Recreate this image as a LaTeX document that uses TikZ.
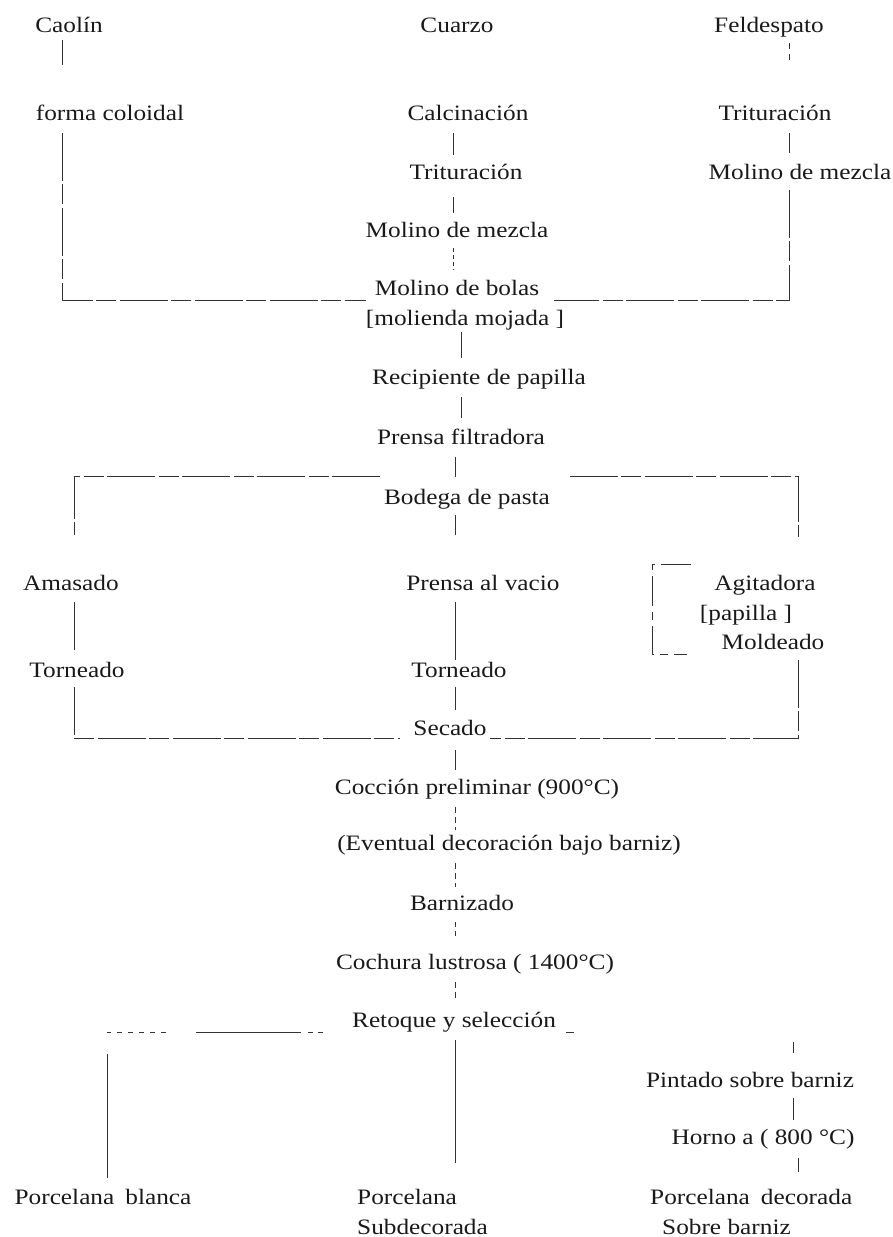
\documentclass[tikz,border=0pt]{standalone}
\usepackage{fontspec}
\setmainfont{Liberation Serif}[FakeStretch=1.15]
\begin{document}
\begin{tikzpicture}[x=1pt,y=-1pt,
  lbl/.style={anchor=base, inner sep=0pt, text height=16pt, text depth=5pt,
              font=\fontsize{22}{30}\selectfont, text=black!90},
  ln/.style={line width=0.8pt, draw=black!80},
  bar/.style={ln, dash pattern=on 48pt off 3pt on 20pt off 4pt}]
\useasboundingbox (0,0) rectangle (892,1237);
% column coordinates
\coordinate (cL) at (62,0);
\coordinate (cM) at (74,0);
\coordinate (cB) at (107,0);
\coordinate (cC1) at (453,0);
\coordinate (cC2) at (461,0);
\coordinate (cC3) at (455,0);
\coordinate (cR) at (789,0);
\coordinate (cR2) at (798,0);
\coordinate (cR3) at (793,0);
% nodes
\node[lbl] (caolin)   at (69,32)   {Caolín};
\node[lbl] (cuarzo)   at (457,32)  {Cuarzo};
\node[lbl] (feld)     at (769,32)  {Feldespato};
\node[lbl] (forma)    at (110,120) {forma coloidal};
\node[lbl] (calc)     at (468,120) {Calcinación};
\node[lbl] (tritR)    at (775,120) {Trituración};
\node[lbl] (tritC)    at (466,179) {Trituración};
\node[lbl] (molmezR)  at (800,179) {Molino de mezcla};
\node[lbl] (molmezC)  at (457,237) {Molino de mezcla};
\node[lbl] (bolas)    at (457,295) {Molino de bolas};
\node[lbl] (molienda) at (465,325) {[molienda mojada ]};
\node[lbl] (recip)    at (479,384) {Recipiente de papilla};
\node[lbl] (prensaF)  at (461,444) {Prensa filtradora};
\node[lbl] (bodega)   at (467,504) {Bodega de pasta};
\node[lbl] (amasado)  at (71,590)  {Amasado};
\node[lbl] (prensaV)  at (483,590) {Prensa al vacio};
\node[lbl] (agit)     at (765,590) {Agitadora};
\node[lbl] (papilla)  at (746,620) {[papilla ]};
\node[lbl] (molde)    at (773,649) {Moldeado};
\node[lbl] (tornL)    at (77,677)  {Torneado};
\node[lbl] (tornC)    at (459,677) {Torneado};
\node[lbl] (secado)   at (450,735) {Secado};
\node[lbl] (coccion)  at (477,794) {Cocción preliminar (900°C)};
\node[lbl] (eventual) at (509,850) {(Eventual decoración bajo barniz)};
\node[lbl] (barniz)   at (462,910) {Barnizado};
\node[lbl] (cochura)  at (475,969) {Cochura lustrosa ( 1400°C)};
\node[lbl] (retoque)  at (454,1027) {Retoque y selección};
\node[lbl] (pintado)  at (750,1087) {Pintado sobre barniz};
\node[lbl] (horno)    at (763,1144) {Horno a ( 800 °C)};
\node[lbl] (pblanca)  at (103,1204) {Porcelana\hspace{0.5em}blanca};
\node[lbl, anchor=base west] (psub1) at (357,1204) {Porcelana};
\node[lbl, anchor=base west] (psub2) at (357,1234) {Subdecorada};
\node[lbl, anchor=base west] (pdec1) at (650,1204) {Porcelana\hspace{0.5em}decorada};
\node[lbl, anchor=base west] (pdec2) at (662,1234) {Sobre barniz};
% top section
\draw[ln, shorten <=3pt, shorten >=39pt] (caolin.south -| cL) -- (forma.north -| cL);
\draw[ln, dash pattern=on 6pt off 5pt, shorten <=6pt, shorten >=42pt] (feld.south -| cR) -- (tritR.north -| cR);
\draw[bar, shorten <=8pt] (forma.south -| cL) |- ([xshift=-9pt]bolas.south west);
\draw[bar, shorten <=6pt] (molmezR.south -| cR) |- ([xshift=15pt]bolas.south east);
\draw[ln, shorten <=8pt, shorten >=10pt] (tritR.south -| cR) -- (molmezR.north -| cR);
\draw[ln, shorten <=8pt, shorten >=8pt] (calc.south -| cC1) -- (tritC.north -| cC1);
\draw[ln, shorten <=13pt, shorten >=8pt] (tritC.south -| cC1) -- (molmezC.north -| cC1);
\draw[ln, dash pattern=on 4pt off 3pt, shorten <=6pt, shorten >=9pt] (molmezC.south -| cC1) -- (bolas.north -| cC1);
\draw[ln, shorten <=2pt, shorten >=10pt] (molienda.south -| cC2) -- (recip.north -| cC2);
\draw[ln, shorten <=8pt, shorten >=10pt] (recip.south -| cC2) -- (prensaF.north -| cC2);
\draw[ln, shorten <=8pt, shorten >=11pt] (prensaF.south -| cC3) -- (bodega.north -| cC3);
% bodega branches
\draw[bar, shorten >=39pt] ([shift={(-4pt,11pt)}]bodega.north west) -| (amasado.north -| cM);
\draw[bar, shorten >=37pt] ([shift={(20pt,11pt)}]bodega.north east) -| (agit.north -| cR2);
\draw[ln, shorten <=6pt, shorten >=39pt] (bodega.south -| cC3) -- (prensaV.north -| cC3);
\draw[ln, shorten <=7pt, shorten >=11pt] (amasado.south -| cM) -- (tornL.north -| cM);
\draw[ln, shorten <=7pt, shorten >=1pt] (prensaV.south -| cC3) -- (tornC.north -| cC3);
\draw[ln, dash pattern=on 30pt off 6pt on 8pt off 6pt] ([shift={(-23pt,9pt)}]agit.north west) -| ([xshift=-69pt]molde.south west) -- ([xshift=-35pt]molde.south west);
% secado collection
\draw[bar, shorten <=5pt] (tornL.south -| cM) |- ([shift={(-13pt,2pt)}]secado.south west);
\draw[bar, shorten <=6pt] (molde.south -| cR2) |- ([shift={(3pt,2pt)}]secado.south east);
\draw[ln, shorten <=5pt, shorten >=9pt] (tornC.south -| cC3) -- (secado.north -| cC3);
% main chain
\draw[ln, shorten <=10pt, shorten >=8pt] (secado.south -| cC3) -- (coccion.north -| cC3);
\draw[ln, dash pattern=on 6pt off 4pt, shorten <=8pt, shorten >=4pt] (coccion.south -| cC3) -- (eventual.north -| cC3);
\draw[ln, dash pattern=on 6pt off 4pt, shorten <=8pt, shorten >=7pt] (eventual.south -| cC3) -- (barniz.north -| cC3);
\draw[ln, dash pattern=on 5pt off 4pt, shorten <=7pt, shorten >=16pt] (barniz.south -| cC3) -- (cochura.north -| cC3);
\draw[ln, dash pattern=on 6pt off 4pt, shorten <=8pt, shorten >=11pt] (cochura.south -| cC3) -- (retoque.north -| cC3);
% final branches
\draw[ln, dash pattern=on 5pt off 5pt on 5pt off 7pt on 105pt off 30pt on 5pt off 6pt on 5pt off 6pt on 5pt off 6pt on 5pt off 6pt on 5pt off 6pt on 4pt off 22pt on 200pt, shorten >=10pt]
  ([xshift=-29pt]retoque.south west) -| (pblanca.north -| cB);
\draw[ln] ([xshift=10pt]retoque.south east) -- ([xshift=18pt]retoque.south east);
\draw[ln, shorten <=8pt, shorten >=25pt] (retoque.south -| cC3) -- (psub1.north -| cC3);
\draw[ln, shorten <=10pt, shorten >=18pt] (retoque.south -| cR3) -- (pintado.north -| cR3);
\draw[ln, shorten <=6pt, shorten >=8pt] (pintado.south -| cR3) -- (horno.north -| cR3);
\draw[ln, shorten <=9pt, shorten >=16pt] (horno.south -| cR2) -- (pdec1.north -| cR2);
\end{tikzpicture}
\end{document}
